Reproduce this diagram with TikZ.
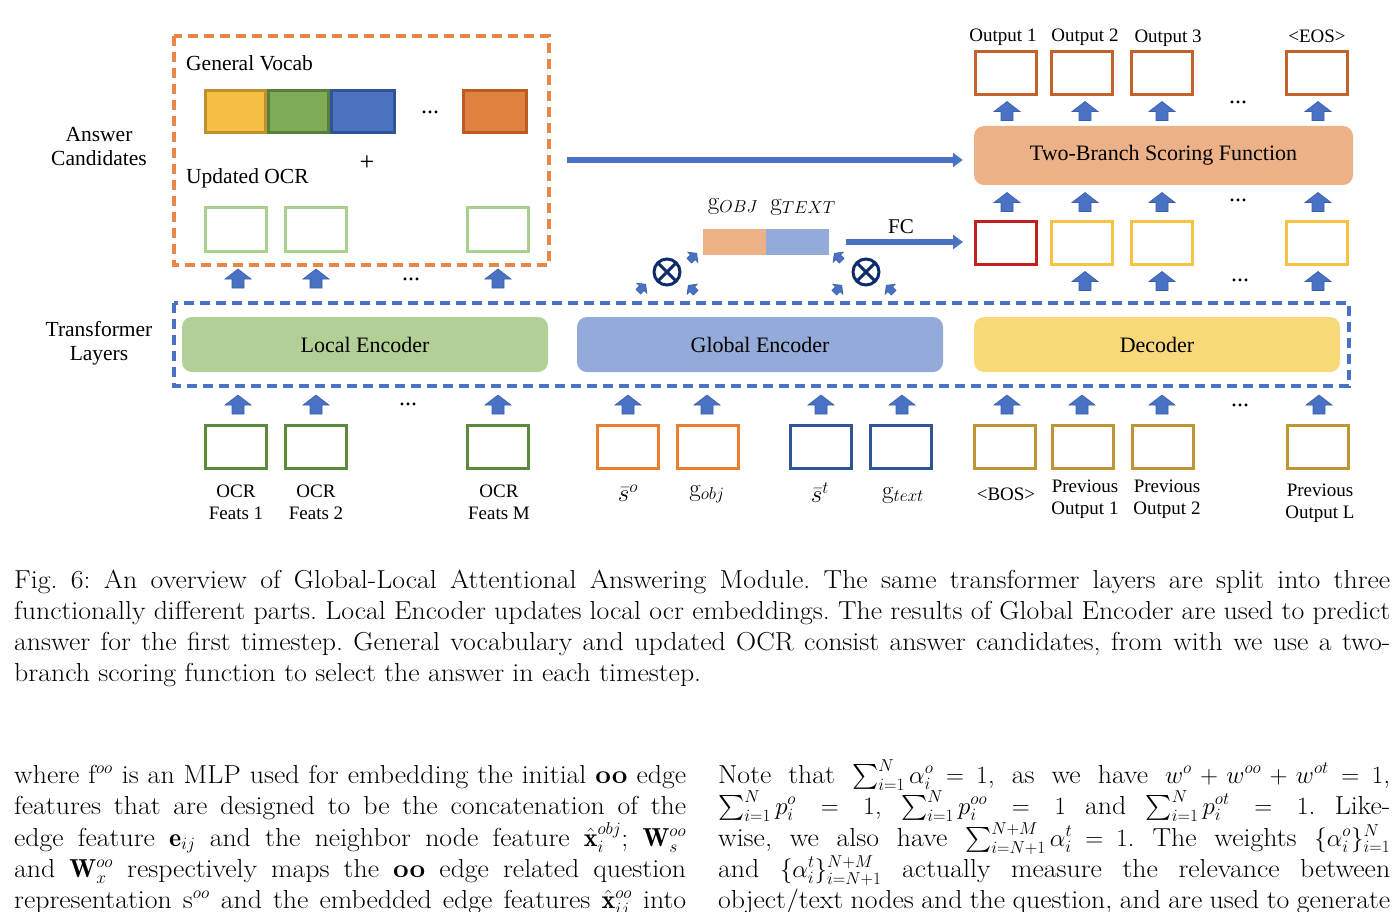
\documentclass[tikz,border=0pt]{standalone}
\usepackage{amsmath}
\usepackage{fontspec}
\newfontfamily\tnr{Liberation Serif}
\newfontfamily\lmst{Latin Modern Roman}[FakeStretch=1.07]
\newcommand\rigidmath{\thickmuskip=5mu plus 2mu\relax\medmuskip=4mu plus 1mu\relax}
\usetikzlibrary{arrows.meta}
\definecolor{arrfill}{HTML}{4A72C4}
\definecolor{arredge}{HTML}{3A5FA8}
\definecolor{dorange}{HTML}{E8864A}
\definecolor{dblue}{HTML}{4A72C4}
\definecolor{vyellow}{HTML}{F5BF42}\definecolor{vyellowb}{HTML}{BF9030}
\definecolor{vgreen}{HTML}{7EAB55}\definecolor{vgreenb}{HTML}{577F3A}
\definecolor{vblue}{HTML}{4A72C0}\definecolor{vblueb}{HTML}{2F5597}
\definecolor{vorange}{HTML}{E0823F}\definecolor{vorangeb}{HTML}{BD5B25}
\definecolor{lgreen}{HTML}{A9D18E}
\definecolor{dgreen}{HTML}{5A8A3A}
\definecolor{borange}{HTML}{ED7D31}
\definecolor{bblue}{HTML}{2F5597}
\definecolor{gold}{HTML}{C09634}
\definecolor{outc}{HTML}{C4622C}
\definecolor{redc}{HTML}{C0201E}
\definecolor{yelc}{HTML}{F7C242}
\definecolor{encg}{HTML}{B2D095}
\definecolor{encb}{HTML}{94AAD8}
\definecolor{ency}{HTML}{F8D878}
\definecolor{peach}{HTML}{EDB188}
\definecolor{navy}{HTML}{0F2C6B}
\tikzset{
  uparr/.pic={\fill[arrfill, draw=arredge, line width=0.6pt] (0,-9.5) -- (13,0.5) -- (6,0.5) -- (6,9.5) -- (-6,9.5) -- (-6,0.5) -- (-13,0.5) -- cycle;},
  fbox/.style={draw, line width=3pt, minimum width=61pt, minimum height=43pt, inner sep=0pt, fill=white},
  vbox/.style={draw, line width=3pt, minimum height=42pt, inner sep=0pt},
  enc/.style={rounded corners=10pt, minimum height=55pt, inner sep=0pt, font=\tnr\fontsize{22}{25}\selectfont},
  lbig/.style={inner sep=0pt, font=\tnr\fontsize{21.5}{25}\selectfont, align=center},
  lsmall/.style={inner sep=0pt, font=\tnr\fontsize{19}{22}\selectfont, align=center},
  ldots/.style={inner sep=0pt, font=\tnr\fontsize{24}{26}\selectfont},
  lmath/.style={inner sep=0pt, font=\fontsize{25}{28}\selectfont},
  harr/.style={draw=arrfill, line width=6pt, -{Triangle[width=14pt,length=10pt]}},
  otimes/.style={circle, draw=navy, line width=3pt, minimum size=26pt, inner sep=0pt, path picture={\draw[navy, line width=3pt] (path picture bounding box.north west) -- (path picture bounding box.south east) (path picture bounding box.north east) -- (path picture bounding box.south west);}},
  txt/.style={anchor=base west, inner sep=0pt, font=\lmst\fontsize{26}{31}\selectfont\frenchspacing},
}
\begin{document}
\begin{tikzpicture}[x=1pt, y=-1pt]
\useasboundingbox (0,0) rectangle (1400,912);
\fill[white] (0,0) rectangle (1400,912);

% ---------- answer candidates ----------
\draw[dorange, line width=3.5pt, dash pattern=on 10pt off 6pt] (174,36) rectangle (549,265);
\node[lbig] (ac) at (99,147) {Answer\\[-1pt]Candidates};
\node[lbig, anchor=west] (gv) at (186,63) {General Vocab};
\node[vbox, fill=vyellow, draw=vyellowb, minimum width=60pt] (v1) at (235.5,111.5) {};
\node[vbox, fill=vgreen, draw=vgreenb, minimum width=60pt] (v2) at (298.5,111.5) {};
\node[vbox, fill=vblue, draw=vblueb, minimum width=63pt] (v3) at (363,111.5) {};
\node[ldots] (vd) at (430,112) {...};
\node[vbox, fill=vorange, draw=vorangeb, minimum width=63pt] (v4) at (495,111.5) {};
\node[lbig, font=\tnr\fontsize{26}{28}\selectfont] (plus) at (367,163) {+};
\node[lbig, anchor=west] (uo) at (186,178) {Updated OCR};
\node[fbox, draw=lgreen] (u1) at (236,229.5) {};
\node[fbox, draw=lgreen] (u2) at (316,229.5) {};
\node[fbox, draw=lgreen] (u3) at (498,229.5) {};

\pic at (238,278.5) {uparr};
\pic at (316,278.5) {uparr};
\pic at (498,278.5) {uparr};
\node[ldots] (d1) at (411,279) {...};

% ---------- transformer layers ----------
\draw[dblue, line width=3.5pt, dash pattern=on 10pt off 6pt] (174,303) rectangle (1349,386);
\node[lbig] (tl) at (99,343) {Transformer\\[-1pt]Layers};
\node[enc, fill=encg, minimum width=366pt] (le) at (365,344.5) {\raisebox{-3pt}{Local Encoder}};
\node[enc, fill=encb, minimum width=366pt] (ge) at (760,344.5) {\raisebox{-3pt}{Global Encoder}};
\node[enc, fill=ency, minimum width=366pt] (de) at (1157,344.5) {\raisebox{-3pt}{Decoder}};

% ---------- bottom inputs ----------
\foreach \x in {238,316,498,628,707,821,902,1007,1082,1162,1319} {\pic at (\x,404.5) {uparr};}
\node[ldots] (d2) at (408,404) {...};
\node[ldots] (d3) at (1240,405) {...};

\node[fbox, draw=dgreen] (o1) at (236,446.5) {};
\node[fbox, draw=dgreen] (o2) at (316,446.5) {};
\node[fbox, draw=dgreen] (o3) at (498,446.5) {};
\node[fbox, draw=borange] (so) at (628,446.5) {};
\node[fbox, draw=borange] (go) at (708,446.5) {};
\node[fbox, draw=bblue] (st) at (821,446.5) {};
\node[fbox, draw=bblue] (gt) at (901,446.5) {};
\node[fbox, draw=gold] (b0) at (1005,446.5) {};
\node[fbox, draw=gold] (b1) at (1083,446.5) {};
\node[fbox, draw=gold] (b2) at (1163,446.5) {};
\node[fbox, draw=gold] (bl) at (1318,446.5) {};

\node[lsmall] (lo1) at (236,502) {OCR\\Feats 1};
\node[lsmall] (lo2) at (316,502) {OCR\\Feats 2};
\node[lsmall] (lo3) at (499,502) {OCR\\Feats M};
\node[lmath] (lso) at (628,493) {$\bar{s}^{o}$};
\node[lmath] (lgo) at (707,494) {$\mathrm{g}_{obj}$};
\node[lmath] (lst) at (820,493) {$\bar{s}^{t}$};
\node[lmath] (lgt) at (903,495) {$\mathrm{g}_{text}$};
\node[lsmall] (lb0) at (1006,494) {<BOS>};
\node[lsmall] (lb1) at (1085,499) {Previous\\Output 1};
\node[lsmall] (lb2) at (1167,499) {Previous\\Output 2};
\node[lsmall] (lbl) at (1320,503) {Previous\\Output L};

% ---------- global branch ----------
\node[inner sep=0pt, minimum width=63pt, minimum height=26pt, fill=peach] (cg1) at (734.5,242) {};
\node[inner sep=0pt, minimum width=63pt, minimum height=26pt, fill=encb] (cg2) at (797.5,242) {};
\node[lmath] (lg1) at (733,206) {$\mathrm{g}_{OBJ}$};
\node[lmath] (lg2) at (803,207) {$\mathrm{g}_{TEXT}$};
\node[otimes] (ot1) at (667,272) {};
\node[otimes] (ot2) at (866,272) {};
\pic[rotate=-45, scale=0.55] at (642,288) {uparr};
\pic[rotate=45, scale=0.55] at (692,289) {uparr};
\pic[rotate=-45, scale=0.55] at (693,257) {uparr};
\pic[rotate=45, scale=0.55] at (838,257) {uparr};
\pic[rotate=-45, scale=0.55] at (838,289) {uparr};
\pic[rotate=45, scale=0.55] at (890,289) {uparr};

% ---------- right decoder outputs ----------
\node[fbox, draw=redc] (m0) at (1006,243) {};
\node[fbox, draw=yelc] (m1) at (1082,243) {};
\node[fbox, draw=yelc] (m2) at (1162,243) {};
\node[fbox, draw=yelc] (ml) at (1317,243) {};
\foreach \x in {1085,1162,1318} {\pic at (\x,281) {uparr};}
\node[ldots] (d4) at (1240,280) {...};

\node[enc, fill=peach, minimum width=379pt, minimum height=59pt] (tb) at (1163.5,155.5) {\raisebox{-3pt}{Two-Branch Scoring Function}};
\foreach \x in {1007,1085,1162,1318} {\pic at (\x,202) {uparr};}
\node[ldots] (d5) at (1238,200) {...};
\foreach \x in {1007,1085,1162,1318} {\pic at (\x,111) {uparr};}
\node[ldots] (d6) at (1238,102) {...};

\node[fbox, draw=outc] (p1) at (1006,73) {};
\node[fbox, draw=outc] (p2) at (1082,73) {};
\node[fbox, draw=outc] (p3) at (1162,73) {};
\node[fbox, draw=outc] (pe) at (1317,73) {};
\node[lsmall] (lp1) at (1003,37) {Output 1};
\node[lsmall] (lp2) at (1085,37) {Output 2};
\node[lsmall] (lp3) at (1168,38) {Output 3};
\node[lsmall] (lpe) at (1317,36) {<EOS>};

% ---------- horizontal arrows ----------
\coordinate (la) at (567,160);
\draw[harr] (la) -- ([xshift=-11pt]tb.west |- la);
\coordinate (fa) at (846,242);
\node[lsmall, font=\tnr\fontsize{21}{24}\selectfont] (fc) at (901,227) {FC};
\draw[harr] (fa) -- ([xshift=-11pt]m0.west |- fa);

% ---------- caption ----------
\node[txt] (c1) at (14,588) {\makebox[1376pt][s]{Fig. 6: An overview of Global-Local Attentional Answering Module. The same transformer layers are split into three}};
\node[txt] (c2) at (14,619) {\makebox[1376pt][s]{functionally different parts. Local Encoder updates local ocr embeddings. The results of Global Encoder are used to predict}};
\node[txt] (c3) at (14,650) {\makebox[1376pt][s]{answer for the first timestep. General vocabulary and updated OCR consist answer candidates, from with we use a two-}};
\node[txt] (c4) at (14,681) {branch scoring function to select the answer in each timestep.};

% ---------- body text, left ----------
\node[txt] (l1) at (14,783) {\makebox[672pt][s]{where f$^{oo}$ is an MLP used for embedding the initial \textbf{oo} edge}};
\node[txt] (l2) at (14,814) {\makebox[672pt][s]{features that are designed to be the concatenation of the}};
\node[txt] (l3) at (14,846) {\makebox[672pt][s]{edge feature $\mathbf{e}_{ij}$ and the neighbor node feature $\hat{\mathbf{x}}_i^{obj}$; $\mathbf{W}_s^{oo}$}};
\node[txt] (l4) at (14,877) {\makebox[672pt][s]{and $\mathbf{W}_x^{oo}$ respectively maps the \textbf{oo} edge related question}};
\node[txt] (l5) at (14,908) {\makebox[672pt][s]{representation s$^{oo}$ and the embedded edge features $\hat{\mathbf{x}}_{ij}^{oo}$ into}};

% ---------- body text, right ----------
\node[txt] (r1) at (718,783) {\rigidmath\makebox[672pt][s]{Note that $\sum_{i=1}^{N} \alpha_i^o = 1$, as we have $w^o + w^{oo} + w^{ot} = 1$,}};
\node[txt] (r2) at (718,814) {\makebox[672pt][s]{$\sum_{i=1}^{N} p_i^o = 1$, $\sum_{i=1}^{N} p_i^{oo} = 1$ and $\sum_{i=1}^{N} p_i^{ot} = 1$. Like-}};
\node[txt] (r3) at (718,846) {\rigidmath\makebox[672pt][s]{wise, we also have $\sum_{i=N+1}^{N+M} \alpha_i^t = 1$. The weights $\{\alpha_i^o\}_{i=1}^{N}$}};
\node[txt] (r4) at (718,877) {\makebox[672pt][s]{and $\{\alpha_i^t\}_{i=N+1}^{N+M}$ actually measure the relevance between}};
\node[txt] (r5) at (718,908) {\makebox[672pt][s]{object/text nodes and the question, and are used to generate}};
\end{tikzpicture}
\end{document}
